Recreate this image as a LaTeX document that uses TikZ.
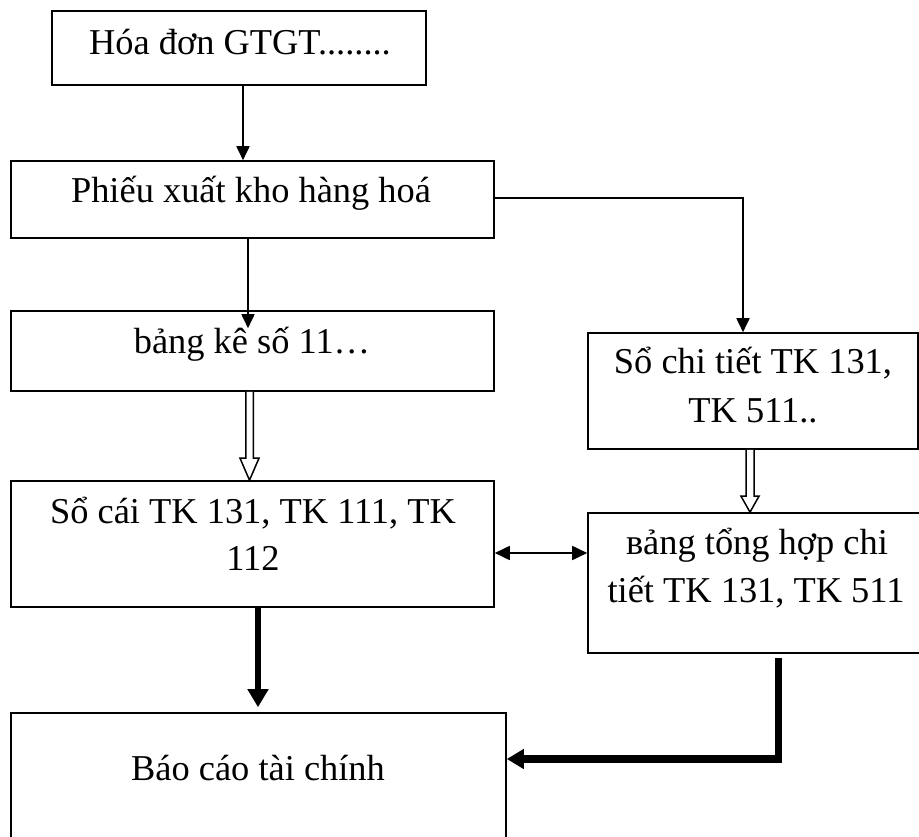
\documentclass[tikz,border=0pt]{standalone}
\usepackage{fontspec}
\setmainfont{Liberation Serif}
\usetikzlibrary{arrows.meta,calc}

\tikzset{
  box/.style={draw=black, line width=1.6pt, rectangle, inner sep=0pt},
  lbl/.style={anchor=base, inner sep=0pt, font=\fontsize{36.4}{44}\selectfont},
  thin/.style={line width=1.8pt, -{Triangle[length=14pt,width=13pt]}},
  both/.style={line width=1.8pt, {Triangle[length=15pt,width=14pt]}-{Triangle[length=15pt,width=14pt]}},
  heavy/.style={line width=6pt, -{Triangle[length=18pt,width=20pt]}},
  heavier/.style={line width=7.5pt, line join=miter, -{Triangle[length=17pt,width=19pt]}},
  hollow/.style={draw=black, line width=1.5pt, line join=miter, fill=white}
}

% downward outlined block arrow: from, to, shaft half width, head half width, head length
\newcommand\hollowdown[5]{%
  \draw[hollow] ($(#1)+(-#3,0)$) -- ($(#2)+(-#3,-#5)$) -- ($(#2)+(-#4,-#5)$)
    -- (#2) -- ($(#2)+(#4,-#5)$) -- ($(#2)+(#3,-#5)$) -- ($(#1)+(#3,0)$);}

\begin{document}
\begin{tikzpicture}[x=1pt, y=-1pt]
  \useasboundingbox (0,0) rectangle (919,837);
  \fill[white] (0,0) rectangle (919,837);
  \clip (0,0) rectangle (919,837);

  % boxes
  \node[box, minimum width=374pt, minimum height=74pt]  (b1) at (239,48) {};
  \node[box, minimum width=483pt, minimum height=77pt]  (b2) at (252.5,199.5) {};
  \node[box, minimum width=483pt, minimum height=80pt]  (b3) at (252.5,351) {};
  \node[box, minimum width=483pt, minimum height=126pt] (b4) at (252.5,544) {};
  \node[box, minimum width=330pt, minimum height=116pt] (b5) at (753,391) {};
  \node[box, minimum width=336pt, minimum height=140pt] (b6) at (756,583) {};
  \node[box, minimum width=495pt, minimum height=147pt] (b7) at (258.5,786.5) {};

  % texts
  \node[lbl] (t1)  at (240,55)  {Hóa đơn GTGT........};
  \node[lbl] (t2)  at (251,203) {Phiếu xuất kho hàng hoá};
  \node[lbl] (t3)  at (252,353) {bảng kê số 11…};
  \node[lbl] (t4a) at (253,523) {Sổ cái TK 131, TK 111, TK};
  \node[lbl] (t4b) at (253,570) {112};
  \node[lbl] (t5a) at (753,373) {Sổ chi tiết TK 131,};
  \node[lbl] (t5b) at (753,422) {TK 511..};
  \node[lbl] (t6a) at (757,554) {вảng tổng hợp chi};
  \node[lbl] (t6b) at (756,602) {tiết TK 131, TK 511};
  \node[lbl] (t7)  at (258,780) {Báo cáo tài chính};

  % connector guide positions
  \coordinate (ax1) at (243,0);
  \coordinate (ax2) at (248,0);
  \coordinate (ax3) at (743,0);
  \coordinate (hx1) at (249.5,0);
  \coordinate (hx2) at (750,0);
  \coordinate (dy)  at (0,553);
  \coordinate (kx1) at (258,0);
  \coordinate (kx2) at (778.5,0);
  \coordinate (ky2) at (0,759);

  % thin arrows
  \draw[thin] (ax1 |- b1.south) -- (ax1 |- b2.north);
  \draw[thin] (ax2 |- b2.south) -- ($(ax2 |- b3.north)+(0,18)$);
  \draw[thin] ($(b2.east)+(0,-1.5)$) -| (ax3 |- b5.north);
  \draw[both] (b4.east |- dy) -- (b6.west |- dy);

  % outlined block arrows
  \coordinate (h1s) at (hx1 |- b3.south);
  \coordinate (h1e) at (hx1 |- b4.north);
  \hollowdown{h1s}{h1e}{3.75}{9.5}{22}
  \coordinate (h2s) at (hx2 |- b5.south);
  \coordinate (h2e) at (hx2 |- b6.north);
  \hollowdown{h2s}{h2e}{4}{9}{16}

  % heavy arrows into the report box
  \draw[heavy] (kx1 |- b4.south) -- ($(kx1 |- b7.north)+(0,-5)$);
  \draw[heavier] ($(kx2 |- b6.south)+(0,4)$) |- (b7.east |- ky2);
\end{tikzpicture}
\end{document}
